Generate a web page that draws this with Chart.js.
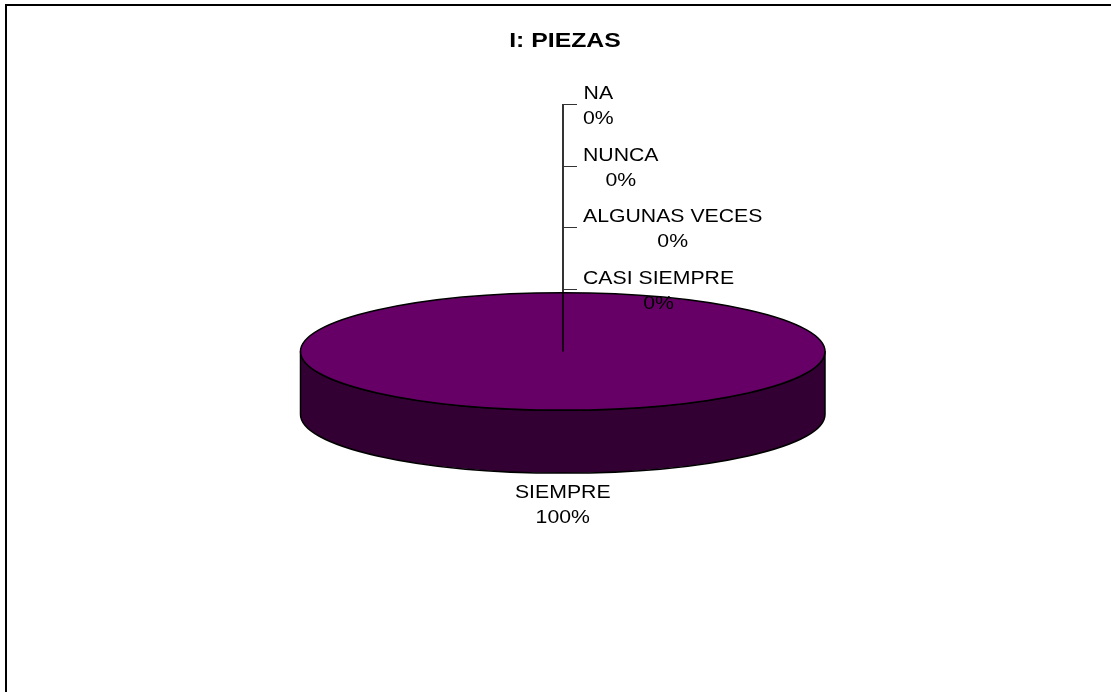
<!DOCTYPE html>
<html>
<head>
<meta charset="utf-8">
<script src="https://cdn.jsdelivr.net/npm/chart.js@4.4.0/dist/chart.umd.min.js"></script>
<style>
  html, body { margin: 0; padding: 0; background: #fff; }
  #wrap { position: relative; width: 1111px; height: 692px; }
</style>
</head>
<body>
<div id="wrap"><canvas id="c"></canvas></div>
<script>
// Survey answers for the "PIEZAS" item
const chartTitle = 'I: PIEZAS';
const categories = ['SIEMPRE', 'CASI SIEMPRE', 'ALGUNAS VECES', 'NUNCA', 'NA'];
const values = [100, 0, 0, 0, 0];

// Styling
const sliceColors = ['#660066', '#9999FF', '#993366', '#FFFFCC', '#CCFFFF'];
const TILT = 0.2238;       // vertical squash of the pie's top face
const DEPTH = 63;          // thickness of the pie wall in px
const TEXT_STRETCH = 1.18; // labels are drawn slightly widened
const LABEL_FONT = '18px "Liberation Sans", Arial, sans-serif';
const TITLE_FONT = 'bold 21px "Liberation Sans", Arial, sans-serif';

function darken(hex, f) {
  const n = parseInt(hex.slice(1), 16);
  const r = Math.round(((n >> 16) & 255) * f);
  const g = Math.round(((n >> 8) & 255) * f);
  const b = Math.round((n & 255) * f);
  return 'rgb(' + r + ',' + g + ',' + b + ')';
}

// parts of an angular range that face the viewer (lower half of the ellipse)
function frontSpans(s, e) {
  const spans = [];
  for (let k = -2; k <= 2; k++) {
    const lo = Math.max(s, k * 2 * Math.PI);
    const hi = Math.min(e, k * 2 * Math.PI + Math.PI);
    if (hi > lo) spans.push([lo, hi]);
  }
  return spans;
}

function stretchedText(ctx, text, x, y) {
  ctx.save();
  ctx.translate(x, y);
  ctx.scale(TEXT_STRETCH, 1);
  ctx.fillText(text, 0, 0);
  ctx.restore();
}

const total = values.reduce((a, b) => a + b, 0);
const pct = v => Math.round(v / total * 100) + '%';

const pie3d = {
  id: 'pie3d',
  beforeDraw(chart) {
    // frame around the chart
    const ctx = chart.ctx;
    ctx.save();
    ctx.strokeStyle = '#000';
    ctx.lineWidth = 2;
    ctx.beginPath();
    ctx.moveTo(6, chart.height + 4);
    ctx.lineTo(6, 5);
    ctx.lineTo(chart.width + 4, 5);
    ctx.stroke();
    ctx.restore();

    // title
    ctx.save();
    ctx.fillStyle = '#000';
    ctx.font = TITLE_FONT;
    ctx.textAlign = 'center';
    ctx.textBaseline = 'alphabetic';
    stretchedText(ctx, chartTitle, 565, 47);
    ctx.restore();
  },
  beforeDatasetsDraw(chart) {
    const ctx = chart.ctx;
    const meta = chart.getDatasetMeta(0);
    const first = meta.data[0];
    const cx = first.x, cy = first.y, rx = first.outerRadius, ry = rx * TILT;

    // side wall of each slice
    meta.data.forEach((arc, i) => {
      if (arc.endAngle - arc.startAngle <= 0) return;
      frontSpans(arc.startAngle, arc.endAngle).forEach(([a0, a1]) => {
        ctx.save();
        ctx.beginPath();
        ctx.ellipse(cx, cy + DEPTH, rx, ry, 0, a0, a1, false);
        ctx.ellipse(cx, cy, rx, ry, 0, a1, a0, true);
        ctx.closePath();
        ctx.fillStyle = darken(sliceColors[i], 0.5);
        ctx.fill();
        ctx.lineWidth = 1.5;
        ctx.strokeStyle = '#000';
        ctx.lineJoin = 'round';
        ctx.stroke();
        ctx.restore();
      });
    });

    // squash the top face into an ellipse
    ctx.save();
    ctx.translate(cx, cy);
    ctx.scale(1, TILT);
    ctx.translate(-cx, -cy);
  },
  afterDatasetsDraw(chart) {
    const ctx = chart.ctx;
    ctx.restore();
    const meta = chart.getDatasetMeta(0);
    const first = meta.data[0];
    const cx = first.x, cy = first.y, rx = first.outerRadius, ry = rx * TILT;

    // rim of the top face
    ctx.save();
    ctx.strokeStyle = '#000';
    ctx.lineWidth = 1.5;
    ctx.beginPath();
    ctx.ellipse(cx, cy, rx, ry, 0, 0, Math.PI * 2);
    ctx.stroke();
    // slice borders on the top face
    const nonZero = meta.data.filter(a => a.endAngle - a.startAngle > 0);
    if (nonZero.length > 1) {
      nonZero.forEach(a => {
        ctx.beginPath();
        ctx.moveTo(cx, cy);
        ctx.lineTo(cx + rx * Math.cos(a.startAngle), cy + ry * Math.sin(a.startAngle));
        ctx.stroke();
      });
    }
    ctx.restore();

    // labels
    ctx.save();
    ctx.font = LABEL_FONT;
    ctx.fillStyle = '#000';
    ctx.textAlign = 'center';
    ctx.textBaseline = 'alphabetic';

    const lx = Math.round(cx);
    const zeroIdx = [];
    meta.data.forEach((arc, i) => { if (values[i] === 0) zeroIdx.push(i); });

    // empty answers are stacked above the pie with a shared leader
    if (zeroIdx.length) {
      const tickY = k => Math.round(cy - ry - 4 - 61.5 * k) + 0.5;
      const topY = tickY(zeroIdx.length - 1);
      ctx.strokeStyle = '#000';
      ctx.lineWidth = 1.6;
      ctx.beginPath();
      ctx.moveTo(lx, cy);
      ctx.lineTo(lx, topY - 0.5);
      ctx.stroke();
      ctx.lineWidth = 1;
      zeroIdx.forEach((i, k) => {
        const ty = tickY(k);
        ctx.strokeStyle = '#333';
        ctx.beginPath();
        ctx.moveTo(lx, ty);
        ctx.lineTo(lx + 14, ty);
        ctx.stroke();
        const name = categories[i];
        const p = pct(values[i]);
        const w = Math.max(ctx.measureText(name).width, ctx.measureText(p).width) * TEXT_STRETCH;
        const centerX = lx + 20 + w / 2;
        stretchedText(ctx, name, centerX, ty - 6);
        stretchedText(ctx, p, centerX, ty + 19.5);
      });
    }

    // answers with a share are labelled outside their slice
    meta.data.forEach((arc, i) => {
      if (values[i] === 0) return;
      const mid = (arc.startAngle + arc.endAngle) / 2;
      const px = cx + rx * Math.cos(mid);
      const s = Math.sin(mid);
      const baseY = cy + ry * s + (s > 0 ? DEPTH + 25 : -40);
      stretchedText(ctx, categories[i], px, baseY);
      stretchedText(ctx, pct(values[i]), px, baseY + 25);
    });
    ctx.restore();
  }
};

new Chart(document.getElementById('c'), {
  type: 'pie',
  data: {
    labels: categories,
    datasets: [{
      data: values,
      backgroundColor: sliceColors,
      borderWidth: 0,
      hoverOffset: 0,
      offset: 0,
      clip: false
    }]
  },
  options: {
    responsive: true,
    maintainAspectRatio: false,
    animation: false,
    devicePixelRatio: 1,
    layout: { padding: { left: 300.5, right: 286, top: 89.15, bottom: 78.35 } },
    plugins: {
      legend: { display: false },
      title: { display: false },
      tooltip: { enabled: false }
    },
    events: []
  },
  plugins: [pie3d]
});
</script>
</body>
</html>
